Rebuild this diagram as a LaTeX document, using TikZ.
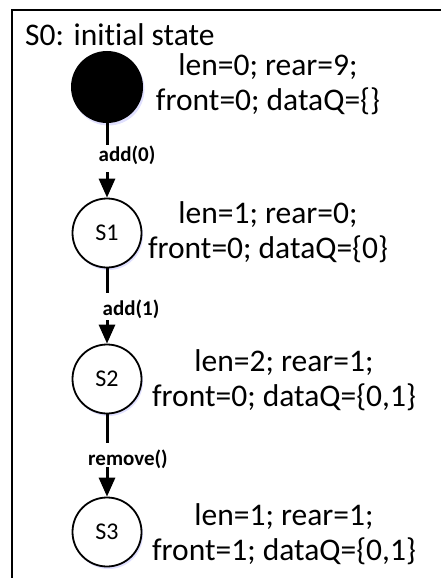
\documentclass[tikz,border=0pt]{standalone}
\usepackage{fontspec}
\setmainfont{Carlito}[Ligatures=NoCommon]
\usetikzlibrary{arrows.meta,shadows}
\tikzset{
  x=1pt, y=-1pt,
  frameline/.style={line width=2pt},
  txt/.style={font=\fontsize{31.5}{34}\selectfont, inner sep=0pt, anchor=base},
  lbl/.style={font=\bfseries\fontsize{21}{22}\selectfont, inner sep=0pt},
  state/.style={circle, draw, line width=1.8pt, fill=white, minimum size=69pt, inner sep=0pt,
    font=\fontsize{24}{26}\selectfont,
    drop shadow={shadow xshift=1.5pt, shadow yshift=-2.5pt, fill=blue!35, opacity=0.35}},
  initstate/.style={circle, fill=black, minimum size=72pt, inner sep=0pt,
    drop shadow={shadow xshift=1.5pt, shadow yshift=-2.5pt, fill=blue!35, opacity=0.35}},
  conn/.style={line width=3pt},
  arr/.style={line width=3pt, -{Triangle[length=19pt, width=16pt]}},
}
\begin{document}
\begin{tikzpicture}
\useasboundingbox (0,0) rectangle (441,578);
\draw[frameline] (11.5,578) -- (11.5,10) -- (441,10);
\node[txt, anchor=base west] (title) at (25,46) {S0: initial state};

% states
\node[initstate] (s0) at (107,87) {};
\node[state] (s1) at (107,233) {S1};
\node[state] (s2) at (107,379) {S2};
\node[state] (s3) at (107,532) {S3};

% state texts
\node[txt] (t0a) at (268,75) {len=0; rear=9;};
\node[txt] (t0b) at (268,110) {front=0; dataQ=\{\}};
\node[txt] (t1a) at (268,223) {len=1; rear=0;};
\node[txt] (t1b) at (268,258) {front=0; dataQ=\{0\}};
\node[txt] (t2a) at (284,371) {len=2; rear=1;};
\node[txt] (t2b) at (284,406) {front=0; dataQ=\{0,1\}};
\node[txt] (t3a) at (284,525) {len=1; rear=1;};
\node[txt] (t3b) at (284,560) {front=1; dataQ=\{0,1\}};

% transition labels
\node[lbl] (l0) at (127,155) {add(0)};
\node[lbl] (l1) at (131,309) {add(1)};
\node[lbl] (l2) at (128,459) {remove()};

% connector break points
\coordinate (a0) at (107,145);
\coordinate (b0) at (107,172);
\coordinate (a1) at (107,293);
\coordinate (b1) at (107,320);
\coordinate (a2) at (107,443);
\coordinate (b2) at (107,467);

\draw[conn] (s0.south) -- (a0);
\draw[arr] (b0) -- (s1.north);
\draw[conn] (s1.south) -- (a1);
\draw[arr] (b1) -- (s2.north);
\draw[conn] (s2.south) -- (a2);
\draw[arr] (b2) -- (s3.north);
\end{tikzpicture}
\end{document}
